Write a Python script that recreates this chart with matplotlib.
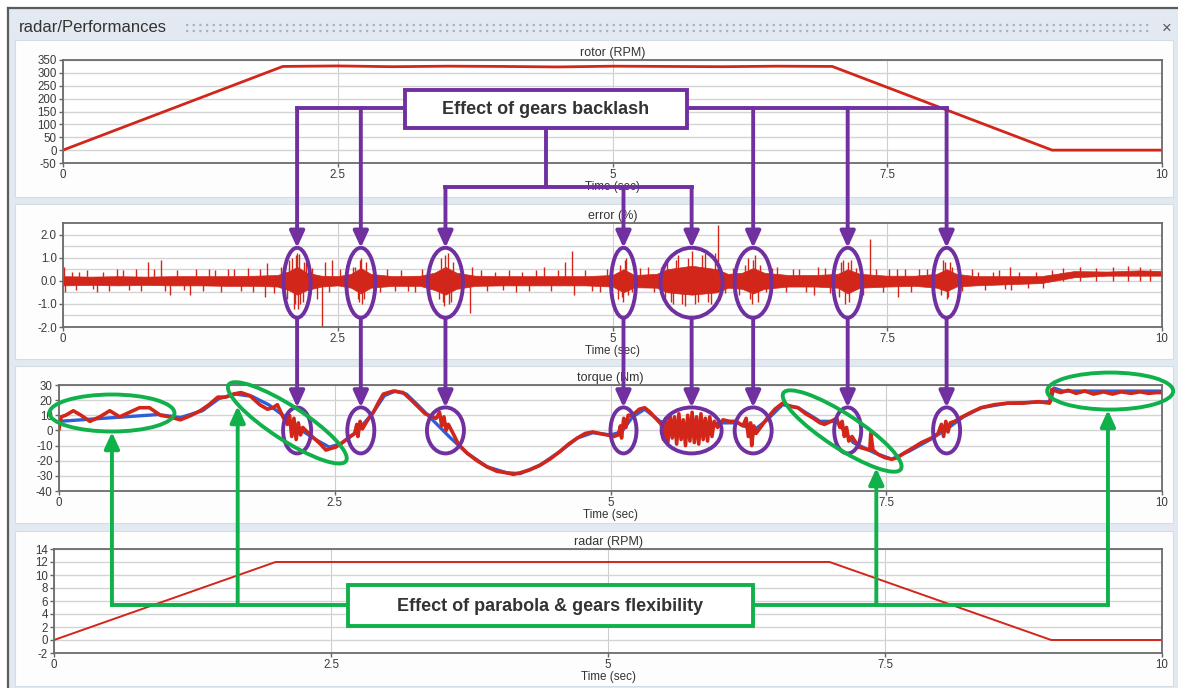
import matplotlib
matplotlib.use('Agg')
import matplotlib.pyplot as plt
from matplotlib.patches import Ellipse, Rectangle

W, H = 1178, 688
plt.rcParams['font.family'] = ['Liberation Sans', 'DejaVu Sans']

# ---------------- data ----------------
x_ticks = [0, 2.5, 5, 7.5, 10]
x_tick_labels = ['0', '2.5', '5', '7.5', '10']

rotor_t = [0.0, 2.0, 2.5, 3.0, 3.5, 4.0, 4.5, 5.0, 5.5, 6.0, 6.5, 7.0, 9.0, 10.0]
rotor_rpm = [0, 325, 327, 324, 326, 325, 323, 326, 325, 324, 326, 325, 0, 0]

radar_t = [0.0, 2.0, 7.0, 9.0, 10.0]
radar_rpm = [0, 12, 12, 0, 0]

# error (%) : noise envelope (time, upper, lower) and individual spikes (time, value)
err_env_t = [0, 0.25, 0.5, 0.75, 1.0, 1.25, 1.5, 1.75, 1.95, 2.05, 2.13, 2.22, 2.35, 2.5, 2.62,
             2.71, 2.8, 3.0, 3.25, 3.38, 3.48, 3.58, 3.75, 4.0, 4.25, 4.5, 4.75, 5.0, 5.1, 5.2,
             5.4, 5.5, 5.72, 5.95, 6.05, 6.18, 6.28, 6.38, 6.6, 6.85, 7.05, 7.14, 7.25, 7.5,
             7.75, 7.95, 8.04, 8.13, 8.3, 8.6, 8.9, 9.2, 9.5, 9.8, 10.0]
err_env_hi = [0.2, 0.18, 0.2, 0.18, 0.2, 0.2, 0.2, 0.22, 0.25, 0.4, 0.6, 0.35, 0.22, 0.2, 0.3,
              0.55, 0.3, 0.2, 0.22, 0.35, 0.6, 0.35, 0.22, 0.2, 0.2, 0.2, 0.2, 0.25, 0.5, 0.25,
              0.3, 0.5, 0.65, 0.5, 0.3, 0.35, 0.55, 0.35, 0.25, 0.25, 0.3, 0.5, 0.3, 0.22,
              0.22, 0.3, 0.5, 0.3, 0.2, 0.2, 0.2, 0.42, 0.4, 0.45, 0.42]
err_env_lo = [-0.2, -0.18, -0.2, -0.18, -0.2, -0.2, -0.22, -0.22, -0.25, -0.4, -0.6, -0.4, -0.25, -0.2, -0.3,
              -0.55, -0.3, -0.22, -0.22, -0.4, -0.6, -0.35, -0.22, -0.2, -0.2, -0.2, -0.2, -0.25, -0.5, -0.28,
              -0.3, -0.5, -0.6, -0.5, -0.3, -0.35, -0.55, -0.35, -0.25, -0.25, -0.3, -0.55, -0.3, -0.25,
              -0.22, -0.3, -0.45, -0.25, -0.2, -0.15, -0.1, 0.15, 0.22, 0.22, 0.22]
err_spike_t = [0.01, 0.02, 0.08, 0.12, 0.15, 0.22, 0.27, 0.31, 0.36, 0.42, 0.49, 0.55, 0.60, 0.66,
               0.71, 0.77, 0.83, 0.89, 0.93, 0.97, 1.04, 1.10, 1.16, 1.21, 1.27, 1.33, 1.38, 1.44,
               1.50, 1.56, 1.62, 1.68, 1.73, 1.79, 1.84, 1.86, 1.92, 1.98,
               2.04, 2.06, 2.08, 2.10, 2.11, 2.12, 2.13, 2.14, 2.15, 2.16, 2.18, 2.19, 2.21, 2.27,
               2.31, 2.36, 2.38, 2.42, 2.45, 2.52, 2.58, 2.64, 2.66, 2.68, 2.69, 2.70, 2.71, 2.72,
               2.74, 2.76, 2.83, 2.88, 2.95, 3.02, 3.08, 3.14, 3.20, 3.27, 3.33, 3.42, 3.44, 3.46,
               3.47, 3.48, 3.50, 3.51, 3.53, 3.55, 3.62, 3.70, 3.72, 3.80, 3.86, 3.93, 4.00, 4.06,
               4.12, 4.18, 4.24, 4.30, 4.38, 4.44, 4.50, 4.57, 4.63, 4.65, 4.75, 4.81, 4.89, 4.95,
               5.05, 5.07, 5.09, 5.10, 5.11, 5.12, 5.14, 5.18, 5.25, 5.32, 5.38, 5.44, 5.48, 5.50,
               5.53, 5.55, 5.58, 5.60, 5.63, 5.66, 5.69, 5.72, 5.75, 5.78, 5.81, 5.84, 5.87, 5.90,
               5.93, 5.96, 6.02, 6.10, 6.15, 6.21, 6.23, 6.25, 6.27, 6.28, 6.30, 6.32, 6.34, 6.40,
               6.45, 6.50, 6.58, 6.64, 6.70, 6.76, 6.83, 6.87, 6.93, 6.98, 7.06, 7.08, 7.10, 7.12,
               7.14, 7.15, 7.17, 7.22, 7.28, 7.34, 7.40, 7.46, 7.52, 7.59, 7.60, 7.66, 7.72, 7.79,
               7.86, 7.92, 7.99, 8.01, 8.03, 8.04, 8.05, 8.07, 8.09, 8.18, 8.27, 8.33, 8.39, 8.46,
               8.52, 8.57, 8.62, 8.63, 8.70, 8.78, 8.85, 8.92, 9.00, 9.10, 9.25, 9.40, 9.55, 9.69,
               9.80, 9.89]
err_spike_v = [0.6, -0.5, 0.4, -0.4, 0.4, 0.45, -0.35, -0.5, 0.4, -0.45, 0.5, 0.45, -0.4, 0.5,
               -0.45, 0.8, 0.5, 0.9, -0.45, -0.6, 0.45, -0.4, -0.6, 0.5, -0.45, 0.5, 0.45, -0.5,
               0.5, 0.5, -0.45, 0.55, -0.5, 0.5, -0.7, 0.75, -0.55, 0.6,
               -0.8, 0.9, 1.0, -1.2, -1.0, 1.1, 1.2, -1.2, 1.15, -1.0, -0.9, 0.8, 0.8, 0.55,
               -0.8, -2.0, 0.8, -0.5, 0.9, 0.5, -0.55, 0.6, 0.6, -0.8, -0.9, 0.9, 1.0, -1.0,
               -0.8, 0.8, 0.5, -0.5, 0.5, -0.45, 0.45, -0.45, -0.5, 0.5, -0.5, -0.8, 1.0, -0.9,
               -1.1, 1.1, 1.2, -1.0, -0.9, 0.8, 0.5, -1.4, 0.6, 0.45, -0.45, 0.4, -0.4, 0.45,
               -0.5, 0.4, -0.45, 0.45, 0.6, -0.45, 0.45, 0.8, 1.3, -0.6, 0.45, -0.45, -0.5, 0.5,
               -0.8, 0.7, -0.7, -0.9, 0.9, 1.0, -0.6, -0.5, 0.55, 0.6, -0.5, 0.6, -0.8, 0.8,
               -0.9, -1.0, 0.9, 1.1, -1.0, -1.1, 1.0, 1.3, -1.0, -0.9, 1.1, 1.2, -0.9, -1.0,
               1.2, 2.4, -0.55, 0.55, -0.6, 0.7, 1.0, -0.8, -1.0, 0.9, 1.1, -0.9, 0.7, -0.5,
               0.55, 0.6, -0.5, 0.5, 0.5, -0.5, -0.6, 0.6, 0.55, -0.55, -0.7, 0.8, 0.9, -1.0,
               0.8, -0.9, 0.9, 0.55, -0.6, 1.8, 0.5, -0.5, 0.5, 0.5, -0.7, 0.5, -0.5, 0.5,
               0.5, -0.55, -0.6, 0.9, 0.8, -0.8, -0.7, 0.8, 0.6, -0.45, 0.5, 0.4, -0.4, 0.4,
               0.45, -0.35, 0.6, -0.4, 0.4, -0.3, 0.4, -0.3, 0.45, 0.55, 0.6, 0.55, 0.6, 0.65,
               0.6, 0.5]

# torque (Nm): measured (red) and reference (blue)
torque_meas = [
    (0.00, 1), (0.02, 9), (0.06, 10), (0.13, 13), (0.20, 10), (0.28, 6), (0.37, 9), (0.46, 13),
    (0.55, 9), (0.64, 12), (0.73, 15), (0.82, 15), (0.92, 10), (1.00, 9), (1.10, 7), (1.20, 10),
    (1.28, 13), (1.36, 17), (1.44, 22), (1.51, 22), (1.58, 24), (1.65, 25), (1.73, 23), (1.82, 17),
    (1.89, 14), (1.94, 15), (1.98, 17), (2.03, 9), (2.07, 4), (2.09, 10), (2.11, -4), (2.13, 8),
    (2.15, -6), (2.17, 5), (2.19, -3), (2.21, 2), (2.25, -1), (2.31, -5), (2.37, -9), (2.42, -13),
    (2.46, -12), (2.51, -11), (2.57, -8), (2.64, -4), (2.68, -2), (2.70, 4), (2.71, -4), (2.73, 6),
    (2.75, 1), (2.80, 7), (2.85, 12), (2.90, 19), (2.94, 24), (3.03, 26), (3.12, 25), (3.18, 21),
    (3.25, 16), (3.32, 11), (3.42, 8), (3.45, 12), (3.47, 3), (3.49, 9), (3.51, 0), (3.53, 4),
    (3.58, -3), (3.62, -9), (3.70, -15), (3.79, -20), (3.88, -24), (3.97, -27), (4.06, -28),
    (4.12, -29), (4.18, -28), (4.27, -26), (4.36, -23), (4.45, -19), (4.54, -14), (4.62, -9),
    (4.70, -5), (4.77, -2), (4.84, -1), (4.90, -2), (4.97, -3), (5.03, -4), (5.07, -3), (5.09, 3),
    (5.10, -5), (5.12, 8), (5.14, 2), (5.16, 10), (5.20, 10), (5.26, 14), (5.31, 15), (5.36, 12),
    (5.41, 8), (5.46, 4), (5.48, -6), (5.50, 8), (5.52, -8), (5.54, 10), (5.56, -5), (5.58, 9),
    (5.60, -9), (5.62, 11), (5.64, -6), (5.66, 7), (5.68, -10), (5.70, 10), (5.72, -7), (5.74, 12),
    (5.76, -8), (5.78, 9), (5.80, -9), (5.82, 11), (5.84, -6), (5.86, 8), (5.88, -7), (5.90, 9),
    (5.92, -4), (5.94, 6), (5.97, 2), (6.02, 7), (6.08, 6), (6.14, 6), (6.20, 3), (6.23, 8),
    (6.25, -4), (6.27, 5), (6.28, -10), (6.30, 3), (6.32, -2), (6.36, 2), (6.42, 8), (6.49, 14),
    (6.56, 18), (6.63, 16), (6.70, 15), (6.77, 11), (6.84, 8), (6.90, 5), (6.94, 4), (7.00, 6),
    (7.05, 8), (7.08, 2), (7.10, 6), (7.12, -4), (7.14, 2), (7.16, -7), (7.19, -4), (7.25, -11),
    (7.30, -12), (7.35, -13), (7.36, -2), (7.38, -13), (7.43, -16), (7.49, -18), (7.55, -19),
    (7.60, -18), (7.66, -15), (7.73, -12), (7.82, -8), (7.91, -5), (7.97, -2), (8.00, 4),
    (8.02, -4), (8.04, 6), (8.06, -1), (8.08, 5), (8.12, 6), (8.19, 9), (8.27, 12), (8.36, 15),
    (8.48, 17), (8.60, 18), (8.74, 18), (8.88, 19), (8.98, 18), (9.00, 27), (9.08, 25),
    (9.15, 26.5), (9.22, 24.5), (9.30, 26), (9.38, 24), (9.47, 25.5), (9.55, 24), (9.63, 25.5),
    (9.72, 24.5), (9.80, 25.5), (9.88, 24.5), (9.95, 25), (10.00, 25)]
torque_ref = [
    (0.0, 6), (0.3, 7.5), (0.6, 9), (0.9, 10.5), (1.1, 8.5), (1.3, 13), (1.45, 21), (1.6, 24),
    (1.75, 22.5), (1.9, 17), (2.05, 9), (2.2, 0), (2.35, -7), (2.45, -11), (2.55, -9), (2.7, -1),
    (2.85, 12), (2.95, 23), (3.05, 26), (3.15, 24), (3.25, 17), (3.4, 6), (3.55, -5), (3.7, -15),
    (3.88, -24), (4.06, -28), (4.18, -28.5), (4.36, -23), (4.54, -14), (4.7, -5), (4.84, -1.5),
    (5.0, -3), (5.1, -1), (5.2, 9), (5.31, 14), (5.45, 6), (5.7, 1), (6.0, 5), (6.15, 5),
    (6.3, 0), (6.42, 7), (6.56, 17), (6.7, 15), (6.9, 6), (7.05, 6), (7.2, -8), (7.4, -15),
    (7.55, -19), (7.7, -14), (7.9, -6), (8.05, 1), (8.2, 9), (8.36, 15), (8.6, 18), (8.99, 19),
    (9.02, 28), (9.1, 26), (10.0, 26)]

# annotation anchor times
backlash_t = [2.13, 2.71, 3.48, 5.10, 5.72, 6.28, 7.14, 8.04]
flex_arrow_t = [0.48, 1.62, 7.41, 9.51]
flex_ellipse_c = [(0.48, 11.5), (2.07, 5.0), (7.10, -0.4), (9.53, 26.0)]

# ---------------- figure ----------------
RED = '#d3261a'
BLUE = '#2f5fd8'
PURPLE = '#7030a0'
GREEN = '#10b04a'
TXT = '#3a3a3a'

fig = plt.figure(figsize=(W / 100, H / 100), dpi=100, facecolor='white')


def px_axes(l, t, r, b):
    return fig.add_axes([l / W, 1 - b / H, (r - l) / W, (b - t) / H])


bg = px_axes(0, 0, W, H)
bg.set_xlim(0, W)
bg.set_ylim(H, 0)
bg.axis('off')
bg.set_zorder(-5)
bg.add_patch(Rectangle((8, 8), W - 8, H - 8, facecolor='#e2e9f0', edgecolor='none'))
bg.plot([8, 8], [8, H], color='#5c5c5c', lw=1.6)
bg.plot([8, W], [8, 8], color='#5c5c5c', lw=1.6)
bg.text(19, 28, 'radar/Performances', fontsize=12, color='#333333', va='center')
for yy in (25, 31):
    bg.plot([186, 1150], [yy, yy], color='#aab3bd', lw=1.6, ls=(0, (1, 2)))
bg.text(1167, 28, '\u00d7', fontsize=12, color='#555555', va='center', ha='center')
for (pt, pb) in [(40, 197), (204, 359), (366, 523), (531, 686)]:
    bg.add_patch(Rectangle((15, pt), 1158, pb - pt, facecolor='#fdfdfe',
                           edgecolor='#d4dce4', lw=0.8))


def style(ax, ylim, yticks, ylabels, grid, title):
    ax.set_xlim(0, 10)
    ax.set_ylim(*ylim)
    ax.set_xticks(x_ticks)
    ax.set_xticklabels(x_tick_labels)
    ax.set_yticks(yticks)
    ax.set_yticklabels(ylabels)
    ax.set_yticks(grid, minor=True)
    ax.grid(axis='y', which='both', color='#d4d4d4', lw=1.0)
    ax.grid(axis='x', which='major', color='#cdcdcd', lw=0.8)
    ax.tick_params(which='major', length=3, width=1, color='#666666', labelsize=8.3,
                   labelcolor=TXT, pad=1.5)
    ax.tick_params(which='minor', length=0)
    ax.set_title(title, fontsize=9, color='#333333', pad=3)
    ax.set_xlabel('Time (sec)', fontsize=8.4, color='#333333', labelpad=0)
    for s in ax.spines.values():
        s.set_color('#6b6b6b')
        s.set_linewidth(1.3)
    ax.set_axisbelow(True)
    ax.set_facecolor('white')


ax1 = px_axes(63, 60, 1162, 163)
ax1.plot(rotor_t, rotor_rpm, color=RED, lw=2.0)
style(ax1, (-50, 350), list(range(-50, 351, 50)), [str(v) for v in range(-50, 351, 50)],
      list(range(-50, 351, 50)), 'rotor (RPM)')

ax2 = px_axes(63, 223, 1162, 327)
ax2.fill_between(err_env_t, err_env_lo, err_env_hi, color=RED, lw=0.5)
ax2.vlines(err_spike_t, 0, err_spike_v, color=RED, lw=1.0)
style(ax2, (-2, 2.5), [-2, -1, 0, 1, 2], ['-2.0', '-1.0', '0.0', '1.0', '2.0'],
      [-2, -1.5, -1, -0.5, 0, 0.5, 1, 1.5, 2], 'error (%)')

ax3 = px_axes(59, 385, 1162, 491)
ax3.plot([p[0] for p in torque_ref], [p[1] for p in torque_ref], color=BLUE, lw=2.4)
ax3.plot([p[0] for p in torque_meas], [p[1] for p in torque_meas], color=RED, lw=2.6)
style(ax3, (-40, 30), list(range(-40, 31, 10)), [str(v) for v in range(-40, 31, 10)],
      list(range(-40, 31, 10)), 'torque (Nm)')

ax4 = px_axes(54, 549, 1162, 653)
ax4.plot(radar_t, radar_rpm, color=RED, lw=1.4)
style(ax4, (-2, 14), list(range(-2, 15, 2)), [str(v) for v in range(-2, 15, 2)],
      list(range(-2, 15, 2)), 'radar (RPM)')

# ---------------- annotation overlay ----------------
ov = px_axes(0, 0, W, H)
ov.set_xlim(0, W)
ov.set_ylim(H, 0)
ov.axis('off')
ov.set_zorder(10)
ov.patch.set_alpha(0)


def to_px(ax, x, y):
    dx, dy = ax.transData.transform((x, y))
    return dx, H - dy


LW = 2.8


def seg(xs, ys, color):
    ov.plot(xs, ys, color=color, lw=LW, solid_capstyle='projecting', solid_joinstyle='miter')


def arrow(x, y0, y1, color):
    ov.annotate('', xy=(x, y1), xytext=(x, y0),
                arrowprops=dict(arrowstyle='-|>,head_length=0.7,head_width=0.32', color=color,
                                lw=LW, shrinkA=0, shrinkB=0, mutation_scale=14))


# purple: gears backlash
bx = [to_px(ax2, t, 0)[0] for t in backlash_t]
cy2 = to_px(ax2, 0, 0)[1] + 2
cy3 = to_px(ax3, 0, 0)[1]
w2 = [27, 29, 35, 25, 62, 37, 29, 27]
w3 = [28, 27, 37, 26, 60, 37, 27, 27]
h2, h3 = 70, 46
top_y, low_y = 108, 187
box_l, box_r, box_t, box_b = 405, 687, 90, 128
seg([bx[0], box_l], [top_y, top_y], PURPLE)
seg([box_r, bx[-1]], [top_y, top_y], PURPLE)
seg([(box_l + box_r) / 2] * 2, [box_b, low_y], PURPLE)
seg([bx[2], bx[4]], [low_y, low_y], PURPLE)
for i, x in enumerate(bx):
    start = low_y if i in (2, 3, 4) else top_y
    arrow(x, start, cy2 - h2 / 2, PURPLE)
    ov.add_patch(Ellipse((x, cy2), w2[i], h2, fill=False, edgecolor=PURPLE, lw=LW))
    arrow(x, cy2 + h2 / 2, cy3 - h3 / 2, PURPLE)
    ov.add_patch(Ellipse((x, cy3), w3[i], h3, fill=False, edgecolor=PURPLE, lw=LW))
ov.add_patch(Rectangle((box_l, box_t), box_r - box_l, box_b - box_t, facecolor='white',
                       edgecolor=PURPLE, lw=LW, zorder=5))
ov.text((box_l + box_r) / 2, (box_t + box_b) / 2 + 1, 'Effect of gears backlash', fontsize=13,
        fontweight='bold', color='#333333', ha='center', va='center', zorder=6)

# green: parabola & gears flexibility
gx = [to_px(ax3, t, 0)[0] for t in flex_arrow_t]
g_tips = [432, 406, 468, 410]
g_sizes = [(125, 37, 0), (140, 34, 33), (140, 34, 33), (126, 37, 0)]
for (t, v), (ew, eh, ang) in zip(flex_ellipse_c, g_sizes):
    cx, cy = to_px(ax3, t, v)
    ov.add_patch(Ellipse((cx, cy), ew, eh, angle=ang, fill=False, edgecolor=GREEN, lw=LW))
gbox_l, gbox_r, gbox_t, gbox_b = 348, 753, 585, 626
gy = 605
seg([gx[0], gbox_l], [gy, gy], GREEN)
seg([gbox_r, gx[-1]], [gy, gy], GREEN)
for x, tip in zip(gx, g_tips):
    arrow(x, gy, tip, GREEN)
ov.add_patch(Rectangle((gbox_l, gbox_t), gbox_r - gbox_l, gbox_b - gbox_t, facecolor='white',
                       edgecolor=GREEN, lw=LW, zorder=5))
ov.text((gbox_l + gbox_r) / 2, (gbox_t + gbox_b) / 2 + 1, 'Effect of parabola & gears flexibility',
        fontsize=13, fontweight='bold', color='#333333', ha='center', va='center', zorder=6)

fig.savefig('out.png', dpi=100, facecolor=fig.get_facecolor())
